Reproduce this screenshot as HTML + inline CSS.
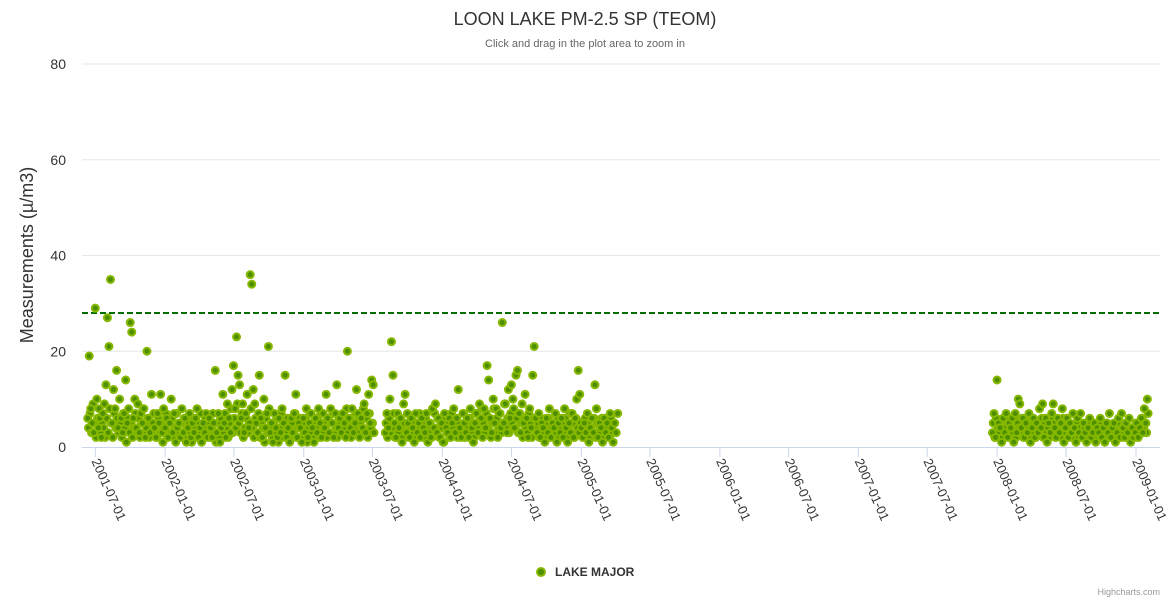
<!DOCTYPE html>
<html><head><meta charset="utf-8"><style>
body{margin:0;background:#fff;}
svg{display:block;font-family:"Liberation Sans",sans-serif;}
</style></head><body>
<svg id="chart" width="1170" height="600">
<rect width="1170" height="600" fill="#fff"/>
<text x="585" y="25" text-anchor="middle" font-size="18" fill="#333">LOON LAKE PM-2.5 SP (TEOM)</text>
<text x="585" y="47" text-anchor="middle" font-size="11" fill="#666">Click and drag in the plot area to zoom in</text>
<text transform="translate(33,255) rotate(-90)" text-anchor="middle" font-size="18" fill="#333">Measurements (µ/m3)</text>
<g id="grid"></g><g id="xaxis"></g><g id="marks"></g>
<g>
<circle cx="541" cy="572" r="4" fill="#4e8f00" stroke="#86b800" stroke-width="2"/>
<text x="555" y="576" font-size="12" font-weight="bold" fill="#333">LAKE MAJOR</text>
</g>
<text x="1160" y="595" text-anchor="end" font-size="9" fill="#999">Highcharts.com</text>
</svg>
<script>
const yTicks=[0,20,40,60,80];
const xTickLabels=["2001-07-01","2002-01-01","2002-07-01","2003-01-01","2003-07-01","2004-01-01","2004-07-01","2005-01-01","2005-07-01","2006-01-01","2006-07-01","2007-01-01","2007-07-01","2008-01-01","2008-07-01","2009-01-01"];
const threshold=28;
const period1Start="2001-06-11";
const period1StartB="2001-06-13";
const period2Start="2007-12-20";
const period2StartB="2007-12-22";
const stepDays=4;
const period1Values=[6,19,8,5,3,29,10,4,6,2,7,9,13,27,21,35,5,12,8,16,4,10,6,3,7,14,5,8,26,24,6,10,4,9,3,7,5,8,2,20,6,3,11,5,4,2,7,5,11,3,8,4,6,2,5,10,3,7,1,4,5,2,8,3,6,1,4,7,2,5,3,6,8,2,4,1,5,3,7,2,6,4,2,5,16,3,7,1,4,11,5,2,9,6,3,12,17,8,23,15,13,6,9,3,7,11,4,36,34,12,9,5,3,15,6,2,10,4,7,21,3,5,1,7,4,2,6,3,8,5,15,2,4,1,6,3,7,11,2,5,4,1,6,3,8,2,5,7,4,1,6,3,8,5,2,7,4,11,6,3,8,5,2,7,13,4,6,3,7,5,2,20,6,4,8,3,5,12,7,2,6,4,9,3,7,11,5,14,13,null,null,null,null,null,null,null,3,7,4,10,22,15,5,2,7,4,6,1,9,11,3,5,2,6,4,1,7,3,5,2,6,4,3,7,1,5,2,8,4,9,3,6,2,5,1,7,4,3,6,2,5,8,3,6,12,4,2,7,5,3,6,2,8,4,1,5,7,3,9,6,2,8,4,17,14,6,3,10,5,8,2,7,4,26,5,9,3,12,6,13,10,4,15,16,7,3,9,5,11,6,2,8,4,15,21,6,3,7,2,5,4,1,6,3,8,2,5,4,7,1,5,3,6,2,8,4,1,5,3,7,2,6,10,16,11,4,2,5,3,7,1,4,6,3,13,8,2,5,4,1,6,3,5,2,7,4,1,5,3,7];
const period1ValuesB=[4,7,3,9,5,2,6,8,3,5,4,2,6,3,8,5,2,7,4,6,3,5,2,7,4,1,6,3,5,2,4,7,3,6,2,5,8,3,4,6,2,5,3,7,4,2,6,3,5,1,4,7,2,5,3,6,2,4,7,3,2,5,3,6,2,4,5,3,1,6,4,2,5,3,7,2,4,6,3,5,2,4,7,3,1,5,2,6,4,3,7,4,2,5,8,3,6,4,9,5,3,7,2,4,6,3,5,8,4,2,6,3,7,2,5,4,1,6,3,8,4,2,5,3,6,1,4,7,2,5,3,6,2,4,5,3,7,2,4,6,2,5,3,6,1,4,7,3,5,2,4,6,2,7,3,5,4,2,6,3,5,7,3,4,2,6,5,3,7,4,8,3,6,2,5,4,7,3,6,5,4,8,3,6,2,7,4,5,3,null,null,null,null,null,null,null,5,2,6,3,4,7,2,5,3,6,4,2,5,3,7,2,4,6,3,5,2,4,7,3,5,2,6,4,3,5,2,4,7,3,6,2,5,4,1,6,3,5,2,7,4,3,6,2,5,4,3,7,2,5,4,6,3,5,2,7,4,3,6,8,5,3,7,4,6,2,5,8,3,6,4,7,3,5,9,4,6,3,7,5,8,4,6,3,7,5,2,6,4,3,7,5,2,6,4,3,5,2,6,4,3,5,2,6,3,4,2,5,3,6,2,4,5,3,6,2,4,7,3,5,2,6,4,3,5,4,2,6,3,5,2,4,3,6,2,5,3,4,6,2,5,3,4,2,6,3,5];
const period2Values=[3,7,2,14,5,4,1,6,3,7,2,5,4,6,1,7,3,10,9,4,6,2,5,3,7,1,4,6,2,5,3,8,4,9,2,6,1,5,3,7,9,4,2,6,3,5,8,1,4,6,2,5,3,7,4,1,6,3,7,2,5,3,1,4,6,2,3,5,1,4,3,6,2,4,1,5,3,7,2,4,5,1,3,6,2,7,4,2,5,3,6,1,4,2,3,5,2,4,6,3,8,5,10];
const period2ValuesB=[5,2,6,4,3,5,2,4,6,3,5,2,4,3,6,2,5,4,3,6,2,4,3,5,2,6,3,4,2,5,4,3,6,2,5,3,4,2,6,3,5,2,4,3,5,2,6,3,4,2,5,3,2,4,3,5,2,4,3,2,4,2,3,5,2,4,3,2,4,3,5,2,4,3,2,5,3,4,2,3,4,2,5,3,2,4,3,5,2,4,3,2,4,3,5,2,4,3,6,4,5,3,7];

const NS="http://www.w3.org/2000/svg";
const X0=82,X1=1160,Y0=447,Y1=64;
const t0=Date.parse("2001-07-01"),t1=Date.parse("2009-01-01");
const xPx0=95.3,xPx1=1136;
function xScale(t){return xPx0+(t-t0)/(t1-t0)*(xPx1-xPx0);}
function yScale(v){return Y0-v/80*(Y0-Y1);}
function mk(tag,attrs,parent){const e=document.createElementNS(NS,tag);for(const k in attrs)e.setAttribute(k,attrs[k]);parent.appendChild(e);return e;}
const grid=document.getElementById('grid'),xa=document.getElementById('xaxis'),marks=document.getElementById('marks');
yTicks.forEach(v=>{
  const y=yScale(v);
  if(v>0){const l=mk('line',{x1:X0,x2:X1,y1:y,y2:y,stroke:'#e6e6e6','stroke-width':1},grid);
  
  }
  const t=mk('text',{x:66,y:y+5,'text-anchor':'end','font-size':14,fill:'#333'},grid);
  t.textContent=v;
  
  
});
const ax=mk('line',{x1:X0,x2:X1,y1:Y0+0.5,y2:Y0+0.5,stroke:'#ccd6eb','stroke-width':1},xa);


xTickLabels.forEach(s=>{
  const x=xScale(Date.parse(s));
  const tk=mk('line',{x1:x,x2:x,y1:Y0,y2:Y0+10,stroke:'#ccd6eb','stroke-width':1},xa);
  
  
  const t=mk('text',{x:0,y:0,'font-size':13,fill:'#333',transform:`translate(${x-4},${Y0+14}) rotate(66)`},xa);
  t.textContent=s;
  
  
});
const ty=yScale(threshold);
const th=mk('line',{x1:X0,x2:X1,y1:ty,y2:ty,stroke:'#006f00','stroke-width':2,'stroke-dasharray':'6,3'},marks);


function drawSeries(start,vals){
  const s=Date.parse(start);
  vals.forEach((v,i)=>{
    if(v===null)return;
    const c=mk('circle',{cx:xScale(s+i*stepDays*864e5),cy:yScale(v),r:3.5,fill:'#4e8f00',stroke:'#86b800','stroke-width':2},marks);
    
    
  });
}
drawSeries(period1StartB,period1ValuesB);
drawSeries(period2StartB,period2ValuesB);
drawSeries(period1Start,period1Values);
drawSeries(period2Start,period2Values);
</script>
</body></html>
